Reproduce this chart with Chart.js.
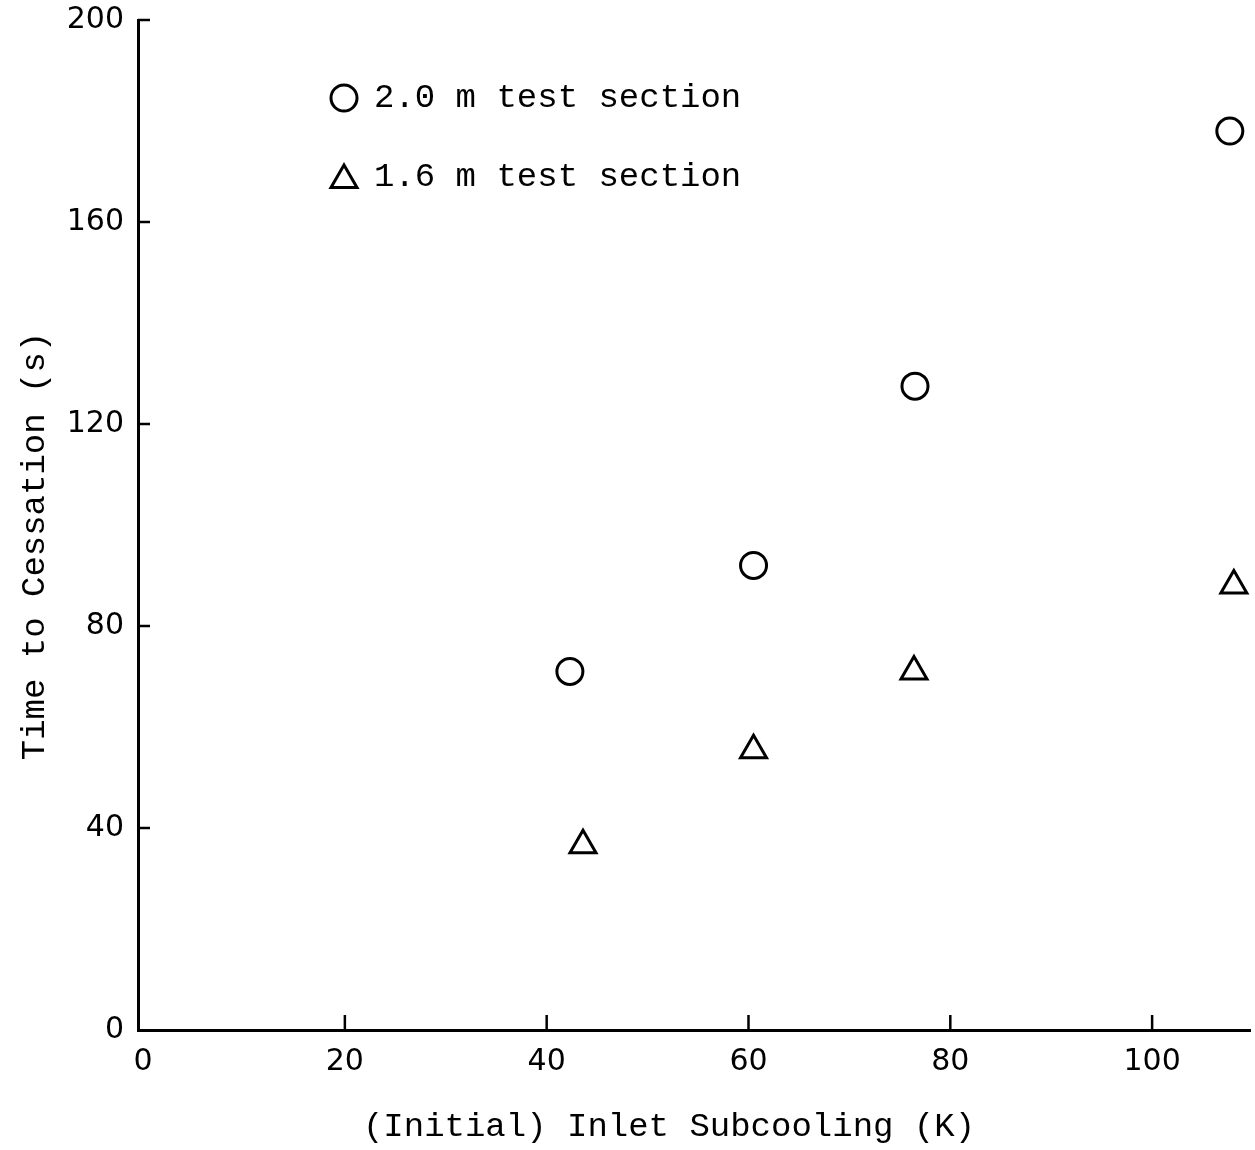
<!DOCTYPE html>
<html>
<head>
<meta charset="utf-8">
<script src="https://cdn.jsdelivr.net/npm/chart.js@4.4.1/dist/chart.umd.min.js"></script>
<style>
  html, body { margin:0; padding:0; background:#fff; }
  #wrap { width:1255px; height:1150px; }
</style>
</head>
<body>
<div id="wrap"><canvas id="c" width="1255" height="1150"></canvas></div>
<script>
// values
const subcooling20 = [42.3, 60.5, 76.5, 107.7];  // 2.0 m test section (K)
const time20       = [71, 92, 127.5, 178];        // s
const subcooling16 = [43.6, 60.5, 76.4, 108.1];   // 1.6 m test section (K)
const time16       = [36.6, 55.4, 71, 88];        // s
const xTicks = [0, 20, 40, 60, 80, 100];
const yTicks = [0, 40, 80, 120, 160, 200];
const seriesNames = ['2.0 m test section', '1.6 m test section'];
const xTitle = '(Initial) Inlet Subcooling (K)';
const yTitle = 'Time to Cessation (s)';

const toPts = (xs, ys) => xs.map((x, i) => ({ x, y: ys[i] }));
const mono = '"Liberation Mono", "DejaVu Sans Mono", monospace';
const plain = '"DejaVu Sans", sans-serif';

// inward tick marks like the original plot
const inwardTicks = {
  id: 'inwardTicks',
  afterDraw(chart) {
    const { ctx, chartArea: a } = chart;
    const x = chart.scales.x, y = chart.scales.y;
    ctx.save(); ctx.strokeStyle = '#000'; ctx.lineWidth = 2.5;
    xTicks.forEach(v => { if (v === 0) return; const px = x.getPixelForValue(v); ctx.beginPath(); ctx.moveTo(px, a.bottom); ctx.lineTo(px, a.bottom - 15); ctx.stroke(); });
    yTicks.forEach(v => { if (v === 0) return; const py = y.getPixelForValue(v); ctx.beginPath(); ctx.moveTo(a.left, py); ctx.lineTo(a.left + 12, py); ctx.stroke(); });
    ctx.restore();
  }
};

// axis titles (original sits a bit off-centre) + legend in the upper left
const labels = {
  id: 'labels',
  afterDraw(chart) {
    const { ctx } = chart;
    ctx.save();
    ctx.fillStyle = '#000'; ctx.font = '34px ' + mono; ctx.textBaseline = 'middle'; ctx.textAlign = 'center';
    ctx.fillText(xTitle, 669, 1127);
    ctx.save(); ctx.translate(35, 546); ctx.rotate(-Math.PI / 2); ctx.fillText(yTitle, 0, 0); ctx.restore();

    const rows = [98, 177];
    chart.data.datasets.forEach((ds, i) => {
      const ry = rows[i];
      ctx.lineWidth = ds.pointBorderWidth; ctx.strokeStyle = '#000'; ctx.fillStyle = '#fff';
      Chart.helpers.drawPoint(ctx, { pointStyle: ds.pointStyle, radius: ds.pointRadius, borderWidth: ds.pointBorderWidth }, 344, ry + (ds.pointStyle === 'triangle' ? 3 : 0));
      ctx.fillStyle = '#000'; ctx.textAlign = 'left';
      ctx.fillText(ds.label, 374, ry);
    });
    ctx.restore();
  }
};

new Chart(document.getElementById('c'), {
  type: 'scatter',
  data: {
    datasets: [
      { label: seriesNames[0], data: toPts(subcooling20, time20), pointStyle: 'circle', pointRadius: 13, pointBorderWidth: 3, pointBorderColor: '#000', pointBackgroundColor: '#fff' },
      { label: seriesNames[1], data: toPts(subcooling16, time16), pointStyle: 'triangle', pointRadius: 15, pointBorderWidth: 3, pointBorderColor: '#000', pointBackgroundColor: '#fff' }
    ]
  },
  plugins: [inwardTicks, labels],
  options: {
    responsive: false, animation: false,
    layout: { autoPadding: false, padding: { top: 20, right: 5, left: 0, bottom: 0 } },
    plugins: { legend: { display: false }, tooltip: { enabled: false } },
    scales: {
      x: {
        type: 'linear', min: -0.5, max: 109.7,
        afterBuildTicks: s => { s.ticks = xTicks.map(v => ({ value: v })); },
        afterFit: s => { s.height = 120; s.paddingLeft = 0; s.paddingRight = 0; },
        grid: { display: false, drawTicks: false },
        border: { display: true, color: '#000', width: 3 },
        ticks: { color: '#000', padding: 14, font: { family: plain, size: 30 } }
      },
      y: {
        type: 'linear', min: 0, max: 200,
        afterBuildTicks: s => { s.ticks = yTicks.map(v => ({ value: v })); },
        afterFit: s => { s.width = 138; s.paddingTop = 0; s.paddingBottom = 0; },
        grid: { display: false, drawTicks: false },
        border: { display: true, color: '#000', width: 3 },
        ticks: { color: '#000', padding: 14, font: { family: plain, size: 30 } }
      }
    }
  }
});
</script>
</body>
</html>
